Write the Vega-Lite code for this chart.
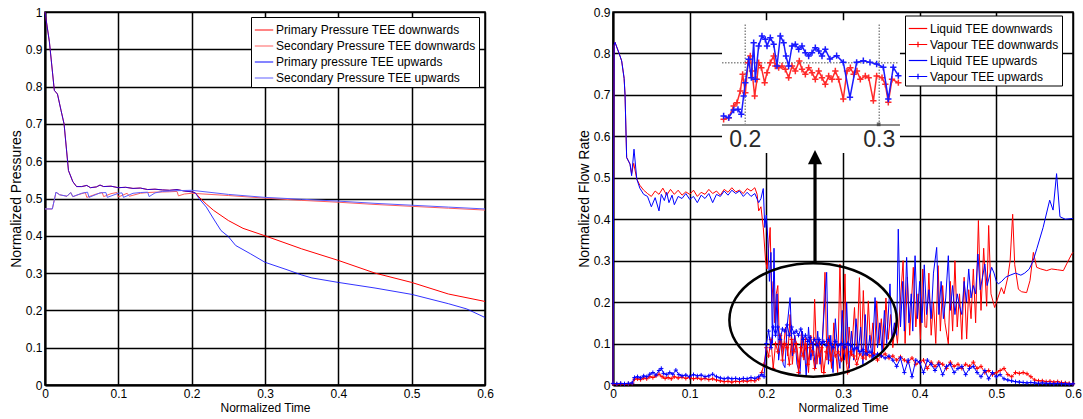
{
  "$schema": "https://vega.github.io/schema/vega-lite/v6.json",
  "padding": {"left": 8, "top": 5, "right": 0, "bottom": 2},
  "background": "white",
  "config": {
    "font": "Liberation Sans",
    "view": {"stroke": "black", "strokeWidth": 1.5},
    "axis": {
      "grid": true, "gridColor": "black", "gridOpacity": 1, "gridWidth": 1.5,
      "domain": true, "domainColor": "black", "domainWidth": 2,
      "ticks": false, "labelFontSize": 12, "labelColor": "black", "labelPadding": 3,
      "labelFlush": false, "labelOverlap": false,
      "titleFontSize": 12, "titleFontWeight": "normal", "titleColor": "black", "titlePadding": 3
    },
    "axisY": {"titleFontSize": 14, "titlePadding": 2}
  },
  "spacing": 81,
  "resolve": {"scale": {"color": "independent", "x": "independent", "y": "independent"}, "legend": {"color": "independent"}},
  "hconcat": [
    {
      "width": 440, "height": 373,
      "encoding": {
        "x": {"field": "t", "type": "quantitative", "scale": {"domain": [0, 0.6], "nice": false}, "axis": {"values": [0, 0.1, 0.2, 0.3, 0.4, 0.5, 0.6], "format": "~g"}, "title": "Normalized Time"},
        "y": {"field": "v", "type": "quantitative", "scale": {"domain": [0, 1], "nice": false}, "axis": {"values": [0, 0.1, 0.2, 0.3, 0.4, 0.5, 0.6, 0.7, 0.8, 0.9, 1], "format": "~g"}, "title": "Normalized Pressures"}
      },
      "layer": [
        {
          "data": {"values": [{"t":0,"v":1.0},{"t":0.006,"v":0.92},{"t":0.0127,"v":0.79},{"t":0.017,"v":0.78},{"t":0.022,"v":0.735},{"t":0.026,"v":0.70},{"t":0.032,"v":0.575},{"t":0.038,"v":0.545},{"t":0.043,"v":0.532},{"t":0.05,"v":0.532},{"t":0.057,"v":0.535},{"t":0.062,"v":0.529},{"t":0.07,"v":0.531},{"t":0.075,"v":0.536},{"t":0.08,"v":0.532},{"t":0.09,"v":0.533},{"t":0.1,"v":0.529},{"t":0.11,"v":0.53},{"t":0.12,"v":0.527},{"t":0.13,"v":0.528},{"t":0.14,"v":0.524},{"t":0.15,"v":0.525},{"t":0.16,"v":0.523},{"t":0.17,"v":0.522},{"t":0.18,"v":0.524},{"t":0.19,"v":0.52},{"t":0.2,"v":0.518},{"t":0.205,"v":0.515},{"t":0.21,"v":0.504},{"t":0.22,"v":0.485},{"t":0.23,"v":0.468},{"t":0.25,"v":0.441},{"t":0.27,"v":0.42},{"t":0.3,"v":0.40},{"t":0.35,"v":0.365},{"t":0.4,"v":0.334},{"t":0.45,"v":0.30},{"t":0.5,"v":0.275},{"t":0.55,"v":0.244},{"t":0.6,"v":0.224}]},
          "mark": {"type": "line", "strokeWidth": 1},
          "encoding": {"color": {"datum": "Primary Pressure TEE downwards", "scale": {"domain": ["Primary Pressure TEE downwards", "Secondary Pressure TEE downwards", "Primary pressure TEE upwards", "Secondary Pressure TEE upwards"], "range": ["#ff0000", "#ff5c5c", "#0000ff", "#5c5cff"]}, "legend": {"orient": "none", "legendX": 206, "legendY": 5, "title": null, "symbolType": "stroke", "symbolSize": 340, "symbolStrokeWidth": 1.2, "labelFontSize": 12, "labelColor": "black", "labelLimit": 300, "strokeColor": "black", "fillColor": "white", "padding": 3, "rowPadding": 0, "labelOffset": 2}}}
        },
        {
          "data": {"values": [{"t":0,"v":0.472},{"t":0.01,"v":0.472},{"t":0.015,"v":0.517},{"t":0.02,"v":0.51},{"t":0.03,"v":0.506},{"t":0.035,"v":0.516},{"t":0.038,"v":0.505},{"t":0.045,"v":0.51},{"t":0.055,"v":0.516},{"t":0.057,"v":0.503},{"t":0.07,"v":0.512},{"t":0.078,"v":0.516},{"t":0.08,"v":0.505},{"t":0.09,"v":0.513},{"t":0.098,"v":0.516},{"t":0.1,"v":0.504},{"t":0.112,"v":0.514},{"t":0.115,"v":0.506},{"t":0.13,"v":0.514},{"t":0.14,"v":0.516},{"t":0.15,"v":0.517},{"t":0.17,"v":0.518},{"t":0.18,"v":0.519},{"t":0.182,"v":0.507},{"t":0.19,"v":0.512},{"t":0.2,"v":0.514},{"t":0.25,"v":0.508},{"t":0.3,"v":0.501},{"t":0.35,"v":0.495},{"t":0.4,"v":0.49},{"t":0.45,"v":0.484},{"t":0.5,"v":0.479},{"t":0.55,"v":0.474},{"t":0.6,"v":0.469}]},
          "mark": {"type": "line", "strokeWidth": 1},
          "encoding": {"color": {"datum": "Secondary Pressure TEE downwards"}}
        },
        {
          "data": {"values": [{"t":0,"v":1.0},{"t":0.006,"v":0.92},{"t":0.0127,"v":0.79},{"t":0.017,"v":0.78},{"t":0.022,"v":0.735},{"t":0.026,"v":0.70},{"t":0.032,"v":0.575},{"t":0.038,"v":0.545},{"t":0.043,"v":0.532},{"t":0.05,"v":0.532},{"t":0.057,"v":0.535},{"t":0.062,"v":0.529},{"t":0.07,"v":0.531},{"t":0.075,"v":0.536},{"t":0.08,"v":0.532},{"t":0.09,"v":0.533},{"t":0.1,"v":0.529},{"t":0.11,"v":0.53},{"t":0.12,"v":0.527},{"t":0.13,"v":0.528},{"t":0.14,"v":0.524},{"t":0.15,"v":0.525},{"t":0.16,"v":0.523},{"t":0.17,"v":0.522},{"t":0.18,"v":0.524},{"t":0.19,"v":0.52},{"t":0.2,"v":0.518},{"t":0.205,"v":0.515},{"t":0.21,"v":0.50},{"t":0.22,"v":0.477},{"t":0.23,"v":0.445},{"t":0.24,"v":0.414},{"t":0.25,"v":0.398},{"t":0.26,"v":0.374},{"t":0.28,"v":0.352},{"t":0.3,"v":0.329},{"t":0.33,"v":0.309},{"t":0.35,"v":0.295},{"t":0.364,"v":0.287},{"t":0.4,"v":0.275},{"t":0.45,"v":0.26},{"t":0.5,"v":0.243},{"t":0.55,"v":0.218},{"t":0.575,"v":0.204},{"t":0.6,"v":0.181}]},
          "mark": {"type": "line", "strokeWidth": 1, "opacity": 0.8},
          "encoding": {"color": {"datum": "Primary pressure TEE upwards"}}
        },
        {
          "data": {"values": [{"t":0,"v":0.472},{"t":0.01,"v":0.472},{"t":0.015,"v":0.517},{"t":0.02,"v":0.51},{"t":0.03,"v":0.506},{"t":0.035,"v":0.516},{"t":0.038,"v":0.505},{"t":0.05,"v":0.514},{"t":0.058,"v":0.517},{"t":0.06,"v":0.503},{"t":0.075,"v":0.515},{"t":0.083,"v":0.516},{"t":0.085,"v":0.503},{"t":0.1,"v":0.514},{"t":0.105,"v":0.515},{"t":0.107,"v":0.503},{"t":0.12,"v":0.514},{"t":0.13,"v":0.516},{"t":0.14,"v":0.517},{"t":0.142,"v":0.505},{"t":0.15,"v":0.515},{"t":0.16,"v":0.519},{"t":0.18,"v":0.521},{"t":0.2,"v":0.522},{"t":0.25,"v":0.511},{"t":0.3,"v":0.503},{"t":0.35,"v":0.498},{"t":0.4,"v":0.493},{"t":0.45,"v":0.487},{"t":0.5,"v":0.482},{"t":0.55,"v":0.477},{"t":0.6,"v":0.472}]},
          "mark": {"type": "line", "strokeWidth": 1},
          "encoding": {"color": {"datum": "Secondary Pressure TEE upwards"}}
        }
      ]
    },
    {
      "width": 460, "height": 373,
      "encoding": {
        "x": {"field": "t", "type": "quantitative", "scale": {"domain": [0, 0.6], "nice": false}, "axis": {"values": [0, 0.1, 0.2, 0.3, 0.4, 0.5, 0.6], "format": "~g"}, "title": "Normalized Time"},
        "y": {"field": "v", "type": "quantitative", "scale": {"domain": [0, 0.9], "nice": false}, "axis": {"values": [0, 0.1, 0.2, 0.3, 0.4, 0.5, 0.6, 0.7, 0.8, 0.9], "format": "~g"}, "title": "Normalized Flow Rate"}
      },
      "layer": [
        {
          "data": {"values": [{"t":0.1422,"t2":0.3743,"v":0.56,"v2":0.88}]},
          "mark": {"type": "rect", "fill": "white", "stroke": null},
          "encoding": {"x2": {"field": "t2"}, "y2": {"field": "v2"}}
        },
        {
          "data": {"values": [{"t":0.1422,"t2":0.3743,"v":0.6276}]},
          "mark": {"type": "rule", "color": "#8a8a8a", "strokeWidth": 2},
          "encoding": {"x2": {"field": "t2"}}
        },
        {
          "data": {"values": [{"t":0.1725,"v":0.6276,"v2":0.872},{"t":0.3473,"v":0.6276,"v2":0.872}]},
          "mark": {"type": "rule", "color": "#8a8a8a", "strokeWidth": 1.5, "strokeDash": [1.5, 1.5]},
          "encoding": {"y2": {"field": "v2"}}
        },
        {
          "data": {"values": [{"t":0.1422,"t2":0.372,"v":0.7777}]},
          "mark": {"type": "rule", "color": "#8a8a8a", "strokeWidth": 1.5, "strokeDash": [1.5, 1.5]},
          "encoding": {"x2": {"field": "t2"}}
        },
        {
          "data": {"values": [{"t":0.1443,"v":0.641},{"t":0.1509,"v":0.645},{"t":0.1574,"v":0.6732},{"t":0.1617,"v":0.6812},{"t":0.1661,"v":0.7094},{"t":0.1691,"v":0.7496},{"t":0.1726,"v":0.7054},{"t":0.1761,"v":0.7778},{"t":0.1791,"v":0.7938},{"t":0.1813,"v":0.7576},{"t":0.1848,"v":0.6973},{"t":0.1878,"v":0.7375},{"t":0.19,"v":0.7778},{"t":0.1935,"v":0.7657},{"t":0.1978,"v":0.7295},{"t":0.2009,"v":0.7536},{"t":0.2052,"v":0.7778},{"t":0.2096,"v":0.7938},{"t":0.2117,"v":0.7697},{"t":0.2161,"v":0.7657},{"t":0.2204,"v":0.7697},{"t":0.2248,"v":0.7617},{"t":0.2291,"v":0.7416},{"t":0.2335,"v":0.7697},{"t":0.2378,"v":0.7576},{"t":0.243,"v":0.7818},{"t":0.2465,"v":0.7617},{"t":0.2509,"v":0.7496},{"t":0.2552,"v":0.7657},{"t":0.2596,"v":0.7536},{"t":0.2639,"v":0.7375},{"t":0.2683,"v":0.7576},{"t":0.2726,"v":0.7416},{"t":0.2769,"v":0.7255},{"t":0.2813,"v":0.7456},{"t":0.2856,"v":0.7375},{"t":0.29,"v":0.7576},{"t":0.2943,"v":0.7375},{"t":0.3004,"v":0.6901},{"t":0.3052,"v":0.7576},{"t":0.3096,"v":0.7657},{"t":0.3139,"v":0.7496},{"t":0.3182,"v":0.7576},{"t":0.3226,"v":0.7375},{"t":0.3291,"v":0.7456},{"t":0.3335,"v":0.7416},{"t":0.3396,"v":0.6861},{"t":0.3439,"v":0.7456},{"t":0.3509,"v":0.7416},{"t":0.3552,"v":0.7255},{"t":0.3591,"v":0.682},{"t":0.3639,"v":0.7375},{"t":0.3722,"v":0.7295}]},
          "mark": {"type": "line", "color": "#ff2a2a", "strokeWidth": 1.5, "point": {"shape": "M-1,0L1,0M0,-1L0,1", "filled": false, "size": 40, "strokeWidth": 1.5, "color": "#ff2a2a"}}
        },
        {
          "data": {"values": [{"t":0.1443,"v":0.6491},{"t":0.1509,"v":0.645},{"t":0.1574,"v":0.6635},{"t":0.163,"v":0.6651},{"t":0.1674,"v":0.6531},{"t":0.1704,"v":0.6973},{"t":0.1726,"v":0.7295},{"t":0.177,"v":0.7858},{"t":0.1804,"v":0.7416},{"t":0.1835,"v":0.826},{"t":0.1856,"v":0.7375},{"t":0.19,"v":0.818},{"t":0.1943,"v":0.8421},{"t":0.1987,"v":0.8341},{"t":0.2009,"v":0.818},{"t":0.2052,"v":0.8381},{"t":0.2096,"v":0.822},{"t":0.2139,"v":0.7697},{"t":0.2183,"v":0.8421},{"t":0.2226,"v":0.826},{"t":0.2256,"v":0.7938},{"t":0.2291,"v":0.7697},{"t":0.2335,"v":0.818},{"t":0.2378,"v":0.822},{"t":0.2422,"v":0.8099},{"t":0.2465,"v":0.818},{"t":0.2509,"v":0.8019},{"t":0.2552,"v":0.7938},{"t":0.2596,"v":0.8019},{"t":0.2639,"v":0.814},{"t":0.2683,"v":0.8059},{"t":0.2726,"v":0.7938},{"t":0.2769,"v":0.8099},{"t":0.283,"v":0.7866},{"t":0.2917,"v":0.7946},{"t":0.3004,"v":0.7785},{"t":0.3091,"v":0.6941},{"t":0.3178,"v":0.7785},{"t":0.3265,"v":0.7826},{"t":0.3352,"v":0.7785},{"t":0.3439,"v":0.7745},{"t":0.3526,"v":0.7665},{"t":0.3591,"v":0.6901},{"t":0.3656,"v":0.7665},{"t":0.3722,"v":0.7464}]},
          "mark": {"type": "line", "color": "#1a1aff", "strokeWidth": 1.5, "point": {"shape": "M-1,0L1,0M0,-1L0,1", "filled": false, "size": 40, "strokeWidth": 1.5, "color": "#1a1aff"}}
        },
        {
          "data": {"values": [{"t":0.3465,"v":0.629}]},
          "mark": {"type": "point", "shape": "square", "filled": true, "size": 14, "color": "#333333"}
        },
        {
          "data": {"values": [{"t":0.1725,"v":0.5907,"label":"0.2"},{"t":0.3473,"v":0.5907,"label":"0.3"}]},
          "mark": {"type": "text", "fontSize": 23, "color": "#2a2a2a", "baseline": "middle", "align": "center"},
          "encoding": {"text": {"field": "label"}}
        },
        {
          "data": {"values": [{"t":0,"v":0},{"t":0.0015,"v":0.82},{"t":0.0026,"v":0.827},{"t":0.008,"v":0.80},{"t":0.0113,"v":0.782},{"t":0.0145,"v":0.74},{"t":0.0157,"v":0.70},{"t":0.0178,"v":0.549},{"t":0.0222,"v":0.533},{"t":0.0243,"v":0.51},{"t":0.027,"v":0.535},{"t":0.031,"v":0.497},{"t":0.035,"v":0.482},{"t":0.04,"v":0.47},{"t":0.045,"v":0.462},{"t":0.05,"v":0.455},{"t":0.055,"v":0.468},{"t":0.06,"v":0.46},{"t":0.065,"v":0.475},{"t":0.07,"v":0.458},{"t":0.075,"v":0.472},{"t":0.08,"v":0.46},{"t":0.085,"v":0.47},{"t":0.09,"v":0.458},{"t":0.095,"v":0.466},{"t":0.1,"v":0.46},{"t":0.105,"v":0.47},{"t":0.11,"v":0.455},{"t":0.115,"v":0.465},{"t":0.12,"v":0.46},{"t":0.125,"v":0.472},{"t":0.13,"v":0.462},{"t":0.135,"v":0.468},{"t":0.14,"v":0.458},{"t":0.145,"v":0.472},{"t":0.15,"v":0.465},{"t":0.155,"v":0.476},{"t":0.16,"v":0.466},{"t":0.165,"v":0.47},{"t":0.17,"v":0.462},{"t":0.175,"v":0.474},{"t":0.18,"v":0.468},{"t":0.185,"v":0.476},{"t":0.188,"v":0.46},{"t":0.19,"v":0.42},{"t":0.193,"v":0.43},{"t":0.196,"v":0.38},{"t":0.199,"v":0.30},{"t":0.201,"v":0.28},{"t":0.203,"v":0.33},{"t":0.205,"v":0.38},{"t":0.207,"v":0.20},{"t":0.209,"v":0.25},{"t":0.211,"v":0.15},{"t":0.213,"v":0.22},{"t":0.215,"v":0.24},{"t":0.217,"v":0.10},{"t":0.219,"v":0.12},{"t":0.222,"v":0.08},{"t":0.225,"v":0.14},{"t":0.228,"v":0.07},{"t":0.231,"v":0.17},{"t":0.234,"v":0.05},{"t":0.237,"v":0.12},{"t":0.24,"v":0.09},{"t":0.243,"v":0.04},{"t":0.246,"v":0.13},{"t":0.249,"v":0.06},{"t":0.252,"v":0.10},{"t":0.255,"v":0.03},{"t":0.258,"v":0.12},{"t":0.261,"v":0.07},{"t":0.263,"v":0.207},{"t":0.266,"v":0.05},{"t":0.269,"v":0.11},{"t":0.272,"v":0.03},{"t":0.2765,"v":0.272},{"t":0.279,"v":0.06},{"t":0.282,"v":0.12},{"t":0.285,"v":0.04},{"t":0.288,"v":0.15},{"t":0.291,"v":0.07},{"t":0.293,"v":0.03},{"t":0.296,"v":0.292},{"t":0.299,"v":0.06},{"t":0.3026,"v":0.268},{"t":0.305,"v":0.05},{"t":0.308,"v":0.14},{"t":0.311,"v":0.07},{"t":0.315,"v":0.187},{"t":0.318,"v":0.06},{"t":0.3214,"v":0.259},{"t":0.324,"v":0.08},{"t":0.3265,"v":0.228},{"t":0.33,"v":0.06},{"t":0.333,"v":0.203},{"t":0.336,"v":0.09},{"t":0.339,"v":0.15},{"t":0.341,"v":0.07},{"t":0.344,"v":0.203},{"t":0.347,"v":0.10},{"t":0.35,"v":0.16},{"t":0.353,"v":0.08},{"t":0.356,"v":0.21},{"t":0.359,"v":0.11},{"t":0.362,"v":0.17},{"t":0.365,"v":0.09},{"t":0.368,"v":0.15},{"t":0.371,"v":0.10},{"t":0.3784,"v":0.30},{"t":0.381,"v":0.10},{"t":0.384,"v":0.26},{"t":0.387,"v":0.12},{"t":0.3917,"v":0.284},{"t":0.395,"v":0.14},{"t":0.398,"v":0.22},{"t":0.401,"v":0.11},{"t":0.404,"v":0.28},{"t":0.407,"v":0.14},{"t":0.4091,"v":0.139},{"t":0.412,"v":0.27},{"t":0.415,"v":0.12},{"t":0.418,"v":0.20},{"t":0.421,"v":0.10},{"t":0.424,"v":0.288},{"t":0.427,"v":0.13},{"t":0.43,"v":0.24},{"t":0.433,"v":0.15},{"t":0.4374,"v":0.099},{"t":0.44,"v":0.25},{"t":0.443,"v":0.13},{"t":0.446,"v":0.30},{"t":0.449,"v":0.14},{"t":0.452,"v":0.22},{"t":0.455,"v":0.11},{"t":0.458,"v":0.26},{"t":0.4613,"v":0.111},{"t":0.464,"v":0.23},{"t":0.467,"v":0.16},{"t":0.47,"v":0.28},{"t":0.473,"v":0.15},{"t":0.4766,"v":0.397},{"t":0.48,"v":0.18},{"t":0.4835,"v":0.33},{"t":0.4874,"v":0.19},{"t":0.49,"v":0.385},{"t":0.493,"v":0.22},{"t":0.4978,"v":0.187},{"t":0.502,"v":0.21},{"t":0.5066,"v":0.235},{"t":0.51,"v":0.22},{"t":0.515,"v":0.26},{"t":0.518,"v":0.30},{"t":0.5213,"v":0.412},{"t":0.524,"v":0.29},{"t":0.5288,"v":0.231},{"t":0.533,"v":0.225},{"t":0.5395,"v":0.223},{"t":0.5439,"v":0.252},{"t":0.5483,"v":0.32},{"t":0.5526,"v":0.284},{"t":0.558,"v":0.28},{"t":0.5657,"v":0.276},{"t":0.572,"v":0.28},{"t":0.58,"v":0.278},{"t":0.5874,"v":0.276},{"t":0.5917,"v":0.292},{"t":0.5983,"v":0.316},{"t":0.6,"v":0.32}]},
          "mark": {"type": "line", "strokeWidth": 1},
          "encoding": {"color": {"datum": "Liquid TEE downwards", "scale": {"domain": ["Liquid TEE downwards", "Vapour TEE downwards", "Liquid TEE upwards", "Vapour TEE upwards"], "range": ["#ff0000", "#ff0000", "#0000ff", "#0000ff"]}, "legend": {"orient": "none", "legendX": 292, "legendY": 3.5, "title": null, "symbolType": "stroke", "symbolSize": 340, "symbolStrokeWidth": 1.2, "labelFontSize": 12, "labelColor": "black", "labelLimit": 300, "strokeColor": "black", "fillColor": "white", "padding": 3, "rowPadding": 0, "labelOffset": 2, "encode": {"symbols": {"update": {"shape": {"signal": "indexof(datum.value, 'Vapour') >= 0 ? 'M-1,0L1,0M0,-0.3L0,0.3' : 'M-1,0L1,0'"}}}}}}}
        },
        {
          "data": {"values": [{"t":0,"v":0},{"t":0.0015,"v":0.82},{"t":0.0026,"v":0.827},{"t":0.008,"v":0.80},{"t":0.0113,"v":0.782},{"t":0.0145,"v":0.74},{"t":0.0157,"v":0.70},{"t":0.0178,"v":0.549},{"t":0.0222,"v":0.533},{"t":0.0243,"v":0.505},{"t":0.0274,"v":0.569},{"t":0.031,"v":0.497},{"t":0.035,"v":0.475},{"t":0.04,"v":0.46},{"t":0.045,"v":0.455},{"t":0.05,"v":0.43},{"t":0.055,"v":0.452},{"t":0.06,"v":0.42},{"t":0.063,"v":0.46},{"t":0.067,"v":0.445},{"t":0.07,"v":0.465},{"t":0.073,"v":0.44},{"t":0.077,"v":0.458},{"t":0.08,"v":0.435},{"t":0.085,"v":0.455},{"t":0.09,"v":0.45},{"t":0.095,"v":0.462},{"t":0.1,"v":0.448},{"t":0.105,"v":0.455},{"t":0.11,"v":0.44},{"t":0.115,"v":0.458},{"t":0.12,"v":0.45},{"t":0.125,"v":0.462},{"t":0.13,"v":0.44},{"t":0.135,"v":0.46},{"t":0.14,"v":0.455},{"t":0.145,"v":0.468},{"t":0.15,"v":0.458},{"t":0.155,"v":0.47},{"t":0.16,"v":0.462},{"t":0.165,"v":0.468},{"t":0.17,"v":0.455},{"t":0.175,"v":0.465},{"t":0.18,"v":0.455},{"t":0.185,"v":0.462},{"t":0.19,"v":0.44},{"t":0.193,"v":0.45},{"t":0.196,"v":0.474},{"t":0.198,"v":0.38},{"t":0.2,"v":0.41},{"t":0.202,"v":0.35},{"t":0.204,"v":0.25},{"t":0.206,"v":0.32},{"t":0.208,"v":0.10},{"t":0.21,"v":0.33},{"t":0.212,"v":0.12},{"t":0.214,"v":0.22},{"t":0.216,"v":0.06},{"t":0.219,"v":0.11},{"t":0.222,"v":0.05},{"t":0.2243,"v":0.042},{"t":0.227,"v":0.14},{"t":0.231,"v":0.211},{"t":0.234,"v":0.07},{"t":0.237,"v":0.12},{"t":0.24,"v":0.05},{"t":0.2439,"v":0.026},{"t":0.247,"v":0.13},{"t":0.25,"v":0.08},{"t":0.252,"v":0.022},{"t":0.255,"v":0.14},{"t":0.258,"v":0.06},{"t":0.261,"v":0.10},{"t":0.264,"v":0.04},{"t":0.267,"v":0.13},{"t":0.27,"v":0.05},{"t":0.273,"v":0.11},{"t":0.2787,"v":0.272},{"t":0.281,"v":0.05},{"t":0.284,"v":0.12},{"t":0.287,"v":0.03},{"t":0.29,"v":0.16},{"t":0.293,"v":0.08},{"t":0.296,"v":0.04},{"t":0.299,"v":0.18},{"t":0.302,"v":0.06},{"t":0.3048,"v":0.199},{"t":0.308,"v":0.04},{"t":0.311,"v":0.13},{"t":0.314,"v":0.06},{"t":0.317,"v":0.16},{"t":0.32,"v":0.08},{"t":0.323,"v":0.14},{"t":0.326,"v":0.05},{"t":0.329,"v":0.17},{"t":0.332,"v":0.07},{"t":0.335,"v":0.12},{"t":0.338,"v":0.06},{"t":0.3418,"v":0.211},{"t":0.345,"v":0.09},{"t":0.348,"v":0.15},{"t":0.351,"v":0.08},{"t":0.354,"v":0.18},{"t":0.357,"v":0.10},{"t":0.3613,"v":0.244},{"t":0.364,"v":0.11},{"t":0.367,"v":0.15},{"t":0.37,"v":0.12},{"t":0.3721,"v":0.376},{"t":0.375,"v":0.14},{"t":0.378,"v":0.25},{"t":0.38,"v":0.13},{"t":0.383,"v":0.308},{"t":0.386,"v":0.15},{"t":0.389,"v":0.22},{"t":0.391,"v":0.13},{"t":0.394,"v":0.312},{"t":0.397,"v":0.16},{"t":0.40,"v":0.25},{"t":0.403,"v":0.15},{"t":0.406,"v":0.29},{"t":0.409,"v":0.17},{"t":0.412,"v":0.23},{"t":0.415,"v":0.16},{"t":0.418,"v":0.27},{"t":0.4222,"v":0.332},{"t":0.425,"v":0.17},{"t":0.428,"v":0.25},{"t":0.431,"v":0.16},{"t":0.434,"v":0.21},{"t":0.4374,"v":0.312},{"t":0.44,"v":0.18},{"t":0.443,"v":0.24},{"t":0.446,"v":0.17},{"t":0.449,"v":0.22},{"t":0.452,"v":0.19},{"t":0.455,"v":0.17},{"t":0.458,"v":0.25},{"t":0.461,"v":0.20},{"t":0.464,"v":0.28},{"t":0.467,"v":0.21},{"t":0.47,"v":0.24},{"t":0.473,"v":0.22},{"t":0.476,"v":0.316},{"t":0.479,"v":0.23},{"t":0.482,"v":0.26},{"t":0.485,"v":0.292},{"t":0.488,"v":0.24},{"t":0.4939,"v":0.284},{"t":0.497,"v":0.27},{"t":0.5,"v":0.25},{"t":0.5026,"v":0.244},{"t":0.507,"v":0.25},{"t":0.512,"v":0.26},{"t":0.518,"v":0.265},{"t":0.525,"v":0.27},{"t":0.532,"v":0.265},{"t":0.537,"v":0.27},{"t":0.543,"v":0.28},{"t":0.548,"v":0.30},{"t":0.553,"v":0.33},{"t":0.561,"v":0.38},{"t":0.5696,"v":0.446},{"t":0.574,"v":0.422},{"t":0.5786,"v":0.51},{"t":0.583,"v":0.406},{"t":0.59,"v":0.40},{"t":0.6,"v":0.402}]},
          "mark": {"type": "line", "strokeWidth": 1},
          "encoding": {"color": {"datum": "Liquid TEE upwards"}}
        },
        {
          "data": {"values": [{"t":0,"v":0.003},{"t":0.005,"v":0.002},{"t":0.01,"v":0.003},{"t":0.015,"v":0.002},{"t":0.02,"v":0.003},{"t":0.025,"v":0.004},{"t":0.028,"v":0.014},{"t":0.032,"v":0.015},{"t":0.036,"v":0.013},{"t":0.04,"v":0.017},{"t":0.044,"v":0.015},{"t":0.048,"v":0.02},{"t":0.052,"v":0.018},{"t":0.056,"v":0.022},{"t":0.06,"v":0.026},{"t":0.064,"v":0.02},{"t":0.068,"v":0.016},{"t":0.072,"v":0.018},{"t":0.076,"v":0.015},{"t":0.08,"v":0.02},{"t":0.085,"v":0.017},{"t":0.09,"v":0.019},{"t":0.095,"v":0.016},{"t":0.1,"v":0.018},{"t":0.105,"v":0.015},{"t":0.11,"v":0.017},{"t":0.115,"v":0.014},{"t":0.12,"v":0.016},{"t":0.125,"v":0.013},{"t":0.13,"v":0.015},{"t":0.135,"v":0.012},{"t":0.14,"v":0.01},{"t":0.145,"v":0.008},{"t":0.15,"v":0.009},{"t":0.155,"v":0.007},{"t":0.16,"v":0.009},{"t":0.165,"v":0.008},{"t":0.17,"v":0.01},{"t":0.175,"v":0.009},{"t":0.18,"v":0.011},{"t":0.185,"v":0.01},{"t":0.19,"v":0.015},{"t":0.194,"v":0.03},{"t":0.197,"v":0.05},{"t":0.2,"v":0.09},{"t":0.203,"v":0.07},{"t":0.206,"v":0.11},{"t":0.209,"v":0.04},{"t":0.212,"v":0.10},{"t":0.215,"v":0.08},{"t":0.218,"v":0.12},{"t":0.221,"v":0.06},{"t":0.224,"v":0.10},{"t":0.227,"v":0.09},{"t":0.23,"v":0.05},{"t":0.233,"v":0.11},{"t":0.236,"v":0.08},{"t":0.239,"v":0.10},{"t":0.242,"v":0.03},{"t":0.245,"v":0.09},{"t":0.248,"v":0.07},{"t":0.251,"v":0.11},{"t":0.254,"v":0.05},{"t":0.257,"v":0.09},{"t":0.26,"v":0.08},{"t":0.263,"v":0.04},{"t":0.266,"v":0.10},{"t":0.269,"v":0.07},{"t":0.272,"v":0.09},{"t":0.275,"v":0.03},{"t":0.278,"v":0.08},{"t":0.281,"v":0.10},{"t":0.284,"v":0.06},{"t":0.287,"v":0.09},{"t":0.29,"v":0.07},{"t":0.294,"v":0.08},{"t":0.298,"v":0.06},{"t":0.302,"v":0.09},{"t":0.306,"v":0.03},{"t":0.31,"v":0.08},{"t":0.314,"v":0.07},{"t":0.318,"v":0.05},{"t":0.322,"v":0.075},{"t":0.326,"v":0.065},{"t":0.33,"v":0.08},{"t":0.335,"v":0.07},{"t":0.34,"v":0.075},{"t":0.345,"v":0.06},{"t":0.35,"v":0.07},{"t":0.355,"v":0.075},{"t":0.36,"v":0.065},{"t":0.365,"v":0.07},{"t":0.37,"v":0.06},{"t":0.375,"v":0.068},{"t":0.38,"v":0.06},{"t":0.385,"v":0.055},{"t":0.39,"v":0.065},{"t":0.395,"v":0.05},{"t":0.4,"v":0.055},{"t":0.405,"v":0.06},{"t":0.41,"v":0.04},{"t":0.415,"v":0.055},{"t":0.42,"v":0.045},{"t":0.425,"v":0.055},{"t":0.43,"v":0.05},{"t":0.435,"v":0.04},{"t":0.44,"v":0.055},{"t":0.445,"v":0.045},{"t":0.45,"v":0.05},{"t":0.455,"v":0.04},{"t":0.46,"v":0.05},{"t":0.465,"v":0.045},{"t":0.47,"v":0.055},{"t":0.475,"v":0.04},{"t":0.48,"v":0.045},{"t":0.485,"v":0.03},{"t":0.49,"v":0.035},{"t":0.495,"v":0.025},{"t":0.5,"v":0.03},{"t":0.505,"v":0.035},{"t":0.51,"v":0.04},{"t":0.515,"v":0.025},{"t":0.52,"v":0.02},{"t":0.525,"v":0.03},{"t":0.53,"v":0.028},{"t":0.535,"v":0.03},{"t":0.54,"v":0.027},{"t":0.545,"v":0.02},{"t":0.55,"v":0.012},{"t":0.555,"v":0.01},{"t":0.56,"v":0.01},{"t":0.565,"v":0.008},{"t":0.57,"v":0.009},{"t":0.575,"v":0.007},{"t":0.58,"v":0.008},{"t":0.585,"v":0.006},{"t":0.59,"v":0.005},{"t":0.595,"v":0.004},{"t":0.6,"v":0.003}]},
          "mark": {"type": "line", "strokeWidth": 1, "point": {"shape": "M-1,0L1,0M0,-1L0,1", "filled": false, "size": 18, "strokeWidth": 1}},
          "encoding": {"color": {"datum": "Vapour TEE downwards"}}
        },
        {
          "data": {"values": [{"t":0,"v":0.004},{"t":0.005,"v":0.003},{"t":0.01,"v":0.004},{"t":0.015,"v":0.003},{"t":0.02,"v":0.004},{"t":0.025,"v":0.005},{"t":0.028,"v":0.018},{"t":0.032,"v":0.02},{"t":0.036,"v":0.017},{"t":0.04,"v":0.022},{"t":0.044,"v":0.02},{"t":0.048,"v":0.026},{"t":0.052,"v":0.03},{"t":0.056,"v":0.024},{"t":0.06,"v":0.035},{"t":0.063,"v":0.04},{"t":0.066,"v":0.028},{"t":0.07,"v":0.025},{"t":0.074,"v":0.03},{"t":0.078,"v":0.026},{"t":0.082,"v":0.036},{"t":0.086,"v":0.025},{"t":0.09,"v":0.022},{"t":0.095,"v":0.024},{"t":0.1,"v":0.02},{"t":0.105,"v":0.025},{"t":0.11,"v":0.022},{"t":0.115,"v":0.024},{"t":0.12,"v":0.02},{"t":0.125,"v":0.022},{"t":0.13,"v":0.026},{"t":0.135,"v":0.02},{"t":0.14,"v":0.017},{"t":0.145,"v":0.015},{"t":0.15,"v":0.017},{"t":0.155,"v":0.015},{"t":0.16,"v":0.016},{"t":0.165,"v":0.014},{"t":0.17,"v":0.016},{"t":0.175,"v":0.015},{"t":0.18,"v":0.018},{"t":0.185,"v":0.016},{"t":0.19,"v":0.02},{"t":0.194,"v":0.025},{"t":0.197,"v":0.02},{"t":0.2,"v":0.10},{"t":0.203,"v":0.13},{"t":0.206,"v":0.09},{"t":0.209,"v":0.14},{"t":0.212,"v":0.12},{"t":0.215,"v":0.14},{"t":0.218,"v":0.11},{"t":0.221,"v":0.135},{"t":0.224,"v":0.13},{"t":0.227,"v":0.145},{"t":0.23,"v":0.12},{"t":0.233,"v":0.14},{"t":0.236,"v":0.125},{"t":0.239,"v":0.13},{"t":0.242,"v":0.12},{"t":0.245,"v":0.135},{"t":0.248,"v":0.11},{"t":0.251,"v":0.12},{"t":0.254,"v":0.105},{"t":0.257,"v":0.115},{"t":0.26,"v":0.10},{"t":0.263,"v":0.11},{"t":0.266,"v":0.095},{"t":0.269,"v":0.11},{"t":0.272,"v":0.10},{"t":0.275,"v":0.105},{"t":0.278,"v":0.095},{"t":0.281,"v":0.11},{"t":0.284,"v":0.10},{"t":0.287,"v":0.09},{"t":0.29,"v":0.105},{"t":0.294,"v":0.095},{"t":0.298,"v":0.10},{"t":0.302,"v":0.09},{"t":0.306,"v":0.10},{"t":0.31,"v":0.095},{"t":0.314,"v":0.085},{"t":0.318,"v":0.09},{"t":0.322,"v":0.08},{"t":0.326,"v":0.085},{"t":0.33,"v":0.075},{"t":0.335,"v":0.08},{"t":0.34,"v":0.07},{"t":0.345,"v":0.075},{"t":0.35,"v":0.07},{"t":0.355,"v":0.065},{"t":0.36,"v":0.07},{"t":0.365,"v":0.06},{"t":0.37,"v":0.045},{"t":0.375,"v":0.065},{"t":0.38,"v":0.03},{"t":0.385,"v":0.06},{"t":0.39,"v":0.02},{"t":0.395,"v":0.06},{"t":0.4,"v":0.055},{"t":0.405,"v":0.03},{"t":0.41,"v":0.06},{"t":0.415,"v":0.05},{"t":0.42,"v":0.035},{"t":0.425,"v":0.05},{"t":0.43,"v":0.025},{"t":0.435,"v":0.045},{"t":0.44,"v":0.05},{"t":0.445,"v":0.03},{"t":0.45,"v":0.04},{"t":0.455,"v":0.045},{"t":0.46,"v":0.025},{"t":0.465,"v":0.04},{"t":0.47,"v":0.045},{"t":0.475,"v":0.03},{"t":0.48,"v":0.02},{"t":0.485,"v":0.035},{"t":0.49,"v":0.015},{"t":0.495,"v":0.03},{"t":0.5,"v":0.02},{"t":0.505,"v":0.025},{"t":0.51,"v":0.015},{"t":0.515,"v":0.012},{"t":0.52,"v":0.01},{"t":0.525,"v":0.008},{"t":0.53,"v":0.007},{"t":0.535,"v":0.006},{"t":0.54,"v":0.005},{"t":0.545,"v":0.006},{"t":0.55,"v":0.005},{"t":0.555,"v":0.004},{"t":0.56,"v":0.005},{"t":0.565,"v":0.004},{"t":0.57,"v":0.004},{"t":0.575,"v":0.003},{"t":0.58,"v":0.004},{"t":0.585,"v":0.003},{"t":0.59,"v":0.003},{"t":0.595,"v":0.002},{"t":0.6,"v":0.003}]},
          "mark": {"type": "line", "strokeWidth": 1, "point": {"shape": "M-1,0L1,0M0,-1L0,1", "filled": false, "size": 18, "strokeWidth": 1}},
          "encoding": {"color": {"datum": "Vapour TEE upwards"}}
        },
        {
          "data": {"values": [{"o":0,"t":0.3702,"v":0.157},{"o":1,"t":0.3619,"v":0.2094},{"o":2,"t":0.3382,"v":0.2537},{"o":3,"t":0.3028,"v":0.2834},{"o":4,"t":0.261,"v":0.2938},{"o":5,"t":0.2192,"v":0.2834},{"o":6,"t":0.1838,"v":0.2537},{"o":7,"t":0.1601,"v":0.2094},{"o":8,"t":0.1518,"v":0.157},{"o":9,"t":0.1601,"v":0.1046},{"o":10,"t":0.1838,"v":0.0603},{"o":11,"t":0.2192,"v":0.0306},{"o":12,"t":0.261,"v":0.0202},{"o":13,"t":0.3028,"v":0.0306},{"o":14,"t":0.3382,"v":0.0603},{"o":15,"t":0.3619,"v":0.1046}]},
          "mark": {"type": "line", "color": "black", "strokeWidth": 2.5, "interpolate": "cardinal-closed"},
          "encoding": {"order": {"field": "o", "type": "quantitative"}}
        },
        {
          "data": {"values": [{"t":0.2635,"v":0.2935,"v2":0.537}]},
          "mark": {"type": "rule", "color": "black", "strokeWidth": 3.2},
          "encoding": {"y2": {"field": "v2"}}
        },
        {
          "data": {"values": [{"t":0.2635,"v":0.55}]},
          "mark": {"type": "point", "shape": "M0,-1L1,1L-1,1Z", "filled": true, "size": 200, "color": "black", "opacity": 1}
        }
      ]
    }
  ]
}
